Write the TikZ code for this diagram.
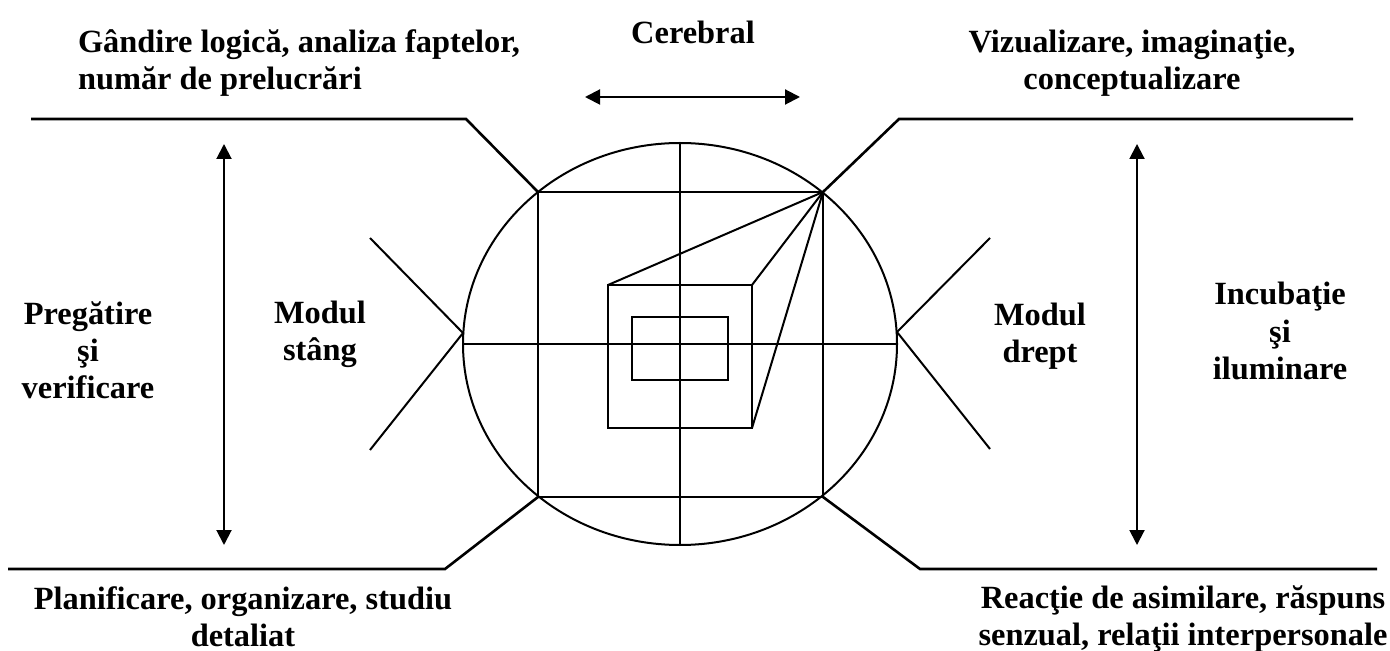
\documentclass[tikz,border=0pt]{standalone}
\usepackage{fontspec}
\setmainfont{Liberation Serif}
\usetikzlibrary{arrows.meta}
\begin{document}
\begin{tikzpicture}[
    x=0.5pt, y=-0.5pt,
    line width=1pt,
    txt/.style={font=\fontsize{16.2}{18.6}\selectfont\bfseries, align=center, inner sep=0pt},
    dblarrow/.style={{Triangle[length=7.5pt,width=7.5pt]}-{Triangle[length=7.5pt,width=7.5pt]}},
    frame/.style={line width=1.3pt}
]
    \useasboundingbox (0,0) rectangle (1390,651);

    % brain circle and grid
    \coordinate (c) at (680,344);
    \coordinate (sqtl) at (538,192);
    \coordinate (sqtr) at (823,192);
    \coordinate (sqbr) at (823,497);
    \coordinate (sqbl) at (538,497);
    \draw (c) ellipse [x radius=108.5pt, y radius=100.5pt];
    \draw (680,143) -- (680,545);
    \draw (463,344) -- (897,344);
    \draw (sqtl) -- (sqtr) -- (sqbr) -- (sqbl) -- cycle;

    % cube in perspective
    \coordinate (cbtl) at (608,285);
    \coordinate (cbtr) at (752,285);
    \coordinate (cbbr) at (752,428);
    \draw (cbtl) rectangle (cbbr);
    \draw (632,317) rectangle (728,380);
    \draw (cbtl) -- (sqtr);
    \draw (cbtr) -- (sqtr);
    \draw (cbbr) -- (sqtr);

    % frame lines
    \draw[frame] (31,119) -- (466,119) -- (sqtl);
    \draw[frame] (1353,119) -- (899,119) -- (sqtr);
    \draw[frame] (8,569) -- (445,569) -- (sqbl);
    \draw[frame] (1377,569) -- (920,569) -- (sqbr);

    % side wedges
    \draw (370,238) -- (463,333) -- (370,450);
    \draw (990,238) -- (897,332) -- (990,449);

    % arrows
    \coordinate (hl) at (585,97);
    \coordinate (hr) at (800,97);
    \coordinate (lt) at (224,144);
    \coordinate (lb) at (224,545);
    \coordinate (rt) at (1137,144);
    \coordinate (rb) at (1137,545);
    \draw[dblarrow] (hl) -- (hr);
    \draw[dblarrow] (lt) -- (lb);
    \draw[dblarrow] (rt) -- (rb);

    % labels
    \node[txt] (cerebral) at (693,32) {Cerebral};
    \node[txt, align=left, anchor=west] (logica) at (77,63) {Gândire logică, analiza faptelor,\\număr de prelucrări};
    \node[txt] (vizual) at (1132,63) {Vizualizare, imaginaţie,\\conceptualizare};
    \node[txt] (pregatire) at (88,350) {Pregătire\\şi\\verificare};
    \node[txt] (stang) at (320,334) {Modul\\stâng};
    \node[txt] (drept) at (1040,336) {Modul\\drept};
    \node[txt] (incubatie) at (1280,331) {Incubaţie\\şi\\iluminare};
    \node[txt] (planif) at (243,617) {Planificare, organizare, studiu\\detaliat};
    \node[txt] (reactie) at (1183,619) {Reacţie de asimilare, răspuns\\senzual, relaţii interpersonale};
\end{tikzpicture}
\end{document}
